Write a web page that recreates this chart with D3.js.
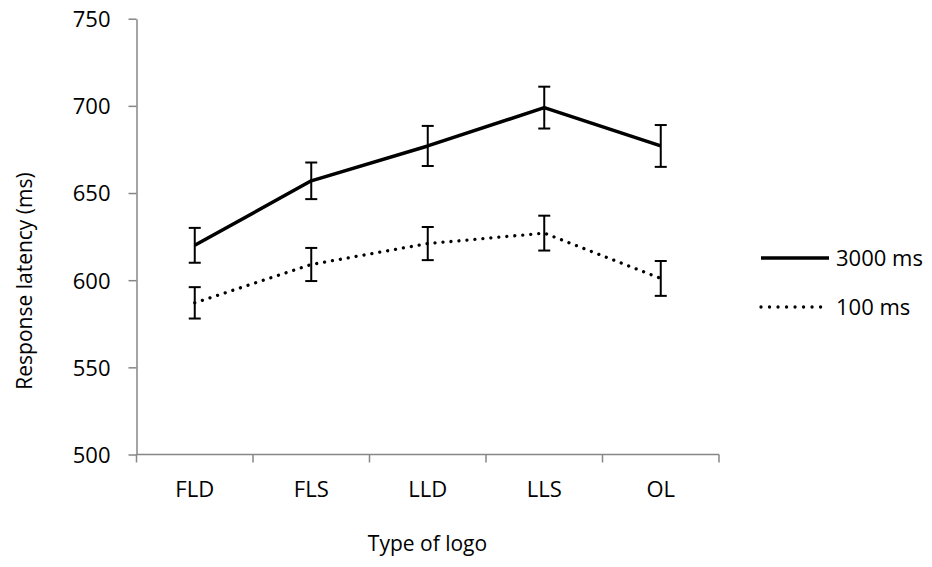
<!DOCTYPE html>
<html>
<head>
<meta charset="utf-8">
<script src="https://cdn.jsdelivr.net/npm/d3@7"></script>
<style>
  body { margin: 0; background: #fff; }
  svg text { font-family: "Open Sans", sans-serif; fill: #000; }
</style>
</head>
<body>
<div id="chart"></div>
<script>
// data
const categories = ["FLD", "FLS", "LLD", "LLS", "OL"]
const long3000 = [620, 657, 677, 699, 677]
const err3000 = [10, 10.5, 11.5, 12, 12]
const short100 = [587, 609, 621, 627, 601]
const err100 = [9, 9.5, 9.5, 10, 10]
const yTicks = [500, 550, 600, 650, 700, 750]
const seriesNames = ["3000 ms", "100 ms"]

const width = 932, height = 567
const svg = d3.select("#chart").append("svg")
    .attr("width", width).attr("height", height)

const x = d3.scaleBand().domain(categories).range([136.5, 719]).padding(0)
const y = d3.scaleLinear().domain([500, 750]).range([454.5, 18.7])
const axisColor = "#868686"

// y axis
const yAxis = svg.append("g")
    .attr("transform", "translate(136.5,0)")
    .call(d3.axisLeft(y).tickValues(yTicks).tickSize(8).tickPadding(18).tickSizeOuter(0))
yAxis.select(".domain").attr("stroke", axisColor).attr("stroke-width", 1.5)
yAxis.selectAll(".tick line").attr("stroke", axisColor).attr("stroke-width", 1.5)
yAxis.selectAll(".tick text").style("font-size", "22px").attr("dy", "0.36em")

// x axis: line, ticks at band edges, labels centred
const xg = svg.append("g").attr("transform", `translate(0,${y(500)})`)
xg.append("line")
    .attr("x1", x.range()[0]).attr("x2", x.range()[1])
    .attr("stroke", axisColor).attr("stroke-width", 1.5)
const edges = categories.map(c => x(c)).concat([x(categories[categories.length - 1]) + x.bandwidth()])
xg.selectAll(".edge").data(edges).enter().append("line")
    .attr("x1", d => d).attr("x2", d => d)
    .attr("y1", 0).attr("y2", 8)
    .attr("stroke", axisColor).attr("stroke-width", 1.5)
xg.selectAll(".lab").data(categories).enter().append("text")
    .attr("x", d => x(d) + x.bandwidth() / 2)
    .attr("y", 42)
    .attr("text-anchor", "middle")
    .style("font-size", "22px")
    .text(d => d)

// axis titles
svg.append("text")
    .attr("transform", "translate(32,281) rotate(-90)")
    .attr("text-anchor", "middle")
    .style("font-size", "21px")
    .text("Response latency (ms)")
svg.append("text")
    .attr("x", 427.5).attr("y", 551)
    .attr("text-anchor", "middle")
    .style("font-size", "21px")
    .text("Type of logo")

const cx = d => x(d) + x.bandwidth() / 2
const line = d3.line().x(d => cx(d.cat)).y(d => y(d.v))

function drawSeries(vals, errs, dotted) {
    const data = categories.map((c, i) => ({cat: c, v: vals[i], e: errs[i]}))
    const g = svg.append("g")
    // error bars
    const eb = g.selectAll(".eb").data(data).enter().append("g")
    eb.append("line")
        .attr("x1", d => cx(d.cat)).attr("x2", d => cx(d.cat))
        .attr("y1", d => y(d.v - d.e)).attr("y2", d => y(d.v + d.e))
        .attr("stroke", "#000").attr("stroke-width", 2)
    eb.selectAll(".cap").data(d => [d.v - d.e, d.v + d.e].map(v => ({cat: d.cat, v: v})))
        .enter().append("line")
        .attr("x1", d => cx(d.cat) - 6).attr("x2", d => cx(d.cat) + 6)
        .attr("y1", d => y(d.v)).attr("y2", d => y(d.v))
        .attr("stroke", "#000").attr("stroke-width", 2)
    const p = g.append("path").datum(data)
        .attr("d", line)
        .attr("fill", "none")
        .attr("stroke", "#000")
    if (dotted) {
        p.attr("stroke-width", 3.3).attr("stroke-dasharray", "0.01 8").attr("stroke-linecap", "round")
    } else {
        p.attr("stroke-width", 3.5).attr("stroke-linejoin", "round")
    }
}
drawSeries(long3000, err3000, false)
drawSeries(short100, err100, true)

// legend
const leg = svg.append("g")
seriesNames.forEach((name, i) => {
    const ly = 258 + i * 49
    const l = leg.append("line")
        .attr("x1", 761).attr("x2", 829)
        .attr("y1", ly).attr("y2", ly)
        .attr("stroke", "#000")
    if (i === 1) {
        l.attr("stroke-width", 3.3).attr("stroke-dasharray", "0.01 8.5").attr("stroke-linecap", "round")
    } else {
        l.attr("stroke-width", 3.5)
    }
    leg.append("text")
        .attr("x", 836).attr("y", ly)
        .attr("dy", "0.36em")
        .style("font-size", "22px")
        .text(name)
})
</script>
</body>
</html>
